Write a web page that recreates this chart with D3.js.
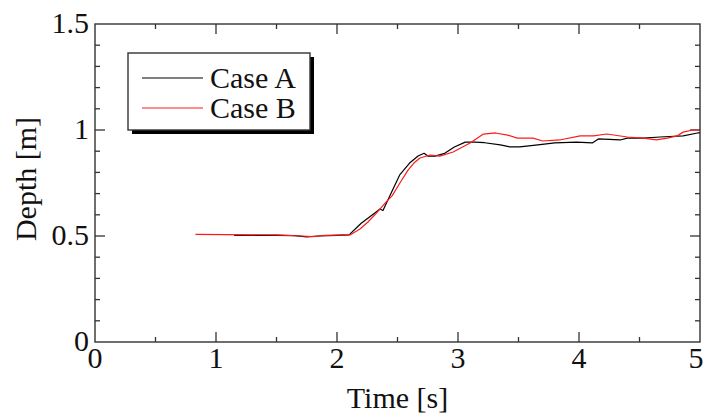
<!DOCTYPE html>
<html>
<head>
<meta charset="utf-8">
<script src="https://cdn.jsdelivr.net/npm/d3@7/dist/d3.min.js"></script>
<style>
  html, body { margin: 0; padding: 0; background: #fff; }
  svg { display: block; }
  text { font-family: "Liberation Serif", "Times New Roman", serif; fill: #111; }
</style>
</head>
<body>
<svg id="chart" width="705" height="417"></svg>
<script>
// Water depth time histories for two cases
const timeA  = [1.15, 1.5, 1.65, 1.75, 1.85, 2.0, 2.1, 2.2, 2.31, 2.355, 2.38, 2.44, 2.52, 2.6, 2.67, 2.72, 2.75, 2.81, 2.89, 2.97, 3.06, 3.14, 3.22, 3.35, 3.43, 3.51, 3.66, 3.8, 3.98, 4.11, 4.16, 4.34, 4.4, 4.53, 4.67, 4.86, 4.98, 5.0];
const depthA = [0.503, 0.503, 0.502, 0.496, 0.5, 0.503, 0.505, 0.56, 0.607, 0.627, 0.62, 0.693, 0.79, 0.844, 0.877, 0.89, 0.877, 0.877, 0.89, 0.92, 0.943, 0.943, 0.94, 0.93, 0.92, 0.92, 0.93, 0.939, 0.943, 0.939, 0.958, 0.953, 0.962, 0.962, 0.967, 0.972, 0.986, 0.986];

const timeB  = [0.83, 1.5, 1.7, 1.8, 1.9, 2.05, 2.107, 2.19, 2.256, 2.32, 2.405, 2.455, 2.52, 2.587, 2.636, 2.686, 2.77, 2.85, 2.96, 3.1, 3.21, 3.31, 3.41, 3.49, 3.62, 3.7, 3.84, 4.01, 4.12, 4.23, 4.4, 4.53, 4.64, 4.73, 4.81, 4.86, 4.94, 5.0];
const depthB = [0.508, 0.505, 0.5, 0.497, 0.503, 0.505, 0.505, 0.533, 0.566, 0.604, 0.66, 0.689, 0.75, 0.811, 0.844, 0.868, 0.882, 0.877, 0.896, 0.939, 0.981, 0.986, 0.976, 0.962, 0.962, 0.948, 0.953, 0.972, 0.972, 0.981, 0.967, 0.962, 0.953, 0.962, 0.972, 0.99, 1.0, 1.0];

const seriesNames  = ["Case A", "Case B"];
const seriesColors = ["#000000", "#ff1a1a"];

const xMajor = [0, 1, 2, 3, 4, 5];
const xMinor = [0.5, 1.5, 2.5, 3.5, 4.5];
const yMajor = [0, 0.5, 1, 1.5];
const yMinor = [0.1, 0.2, 0.3, 0.4, 0.6, 0.7, 0.8, 0.9, 1.1, 1.2, 1.3, 1.4];

const W = 705;
const svg = d3.select("#chart");
const L = 95, R = 700, T = 24, B = 342;
const x = d3.scaleLinear().domain([0, 5]).range([L, R]);
const y = d3.scaleLinear().domain([0, 1.5]).range([B, T]);

const frameColor = "#333";
const majorLen = 10, minorLen = 5;

// Inward ticks on all four sides
const tickG = svg.append("g").attr("stroke", frameColor).attr("stroke-width", 1.3);
function xTicks(vals, len) {
  vals.forEach(v => {
    tickG.append("line").attr("x1", x(v)).attr("x2", x(v)).attr("y1", B).attr("y2", B - len);
    tickG.append("line").attr("x1", x(v)).attr("x2", x(v)).attr("y1", T).attr("y2", T + len);
  });
}
function yTicks(vals, len) {
  vals.forEach(v => {
    tickG.append("line").attr("y1", y(v)).attr("y2", y(v)).attr("x1", L).attr("x2", L + len);
    tickG.append("line").attr("y1", y(v)).attr("y2", y(v)).attr("x1", R).attr("x2", R - len);
  });
}
xTicks(xMajor.filter(v => v > 0 && v < 5), majorLen);
xTicks(xMinor, minorLen);
yTicks(yMajor.filter(v => v > 0 && v < 1.5), majorLen);
yTicks(yMinor, minorLen);

// Lines
const line = d3.line().x(d => x(d[0])).y(d => y(d[1]));
const dataA = timeA.map((t, i) => [t, depthA[i]]);
const dataB = timeB.map((t, i) => [t, depthB[i]]);
[dataA, dataB].forEach((d, i) => {
  svg.append("path").datum(d).attr("d", line)
    .attr("fill", "none").attr("stroke", seriesColors[i]).attr("stroke-width", 1.2)
    .attr("stroke-linejoin", "round");
});

// Frame
svg.append("rect").attr("x", L).attr("y", T).attr("width", R - L).attr("height", B - T)
  .attr("fill", "none").attr("stroke", frameColor).attr("stroke-width", 1.4);

// Tick labels (the last x label is kept inside the canvas)
const fs = 30;
svg.append("g").selectAll("text").data(xMajor).join("text")
  .attr("x", d => Math.min(x(d), W - 9)).attr("y", 368).attr("text-anchor", "middle")
  .attr("font-size", fs).text(d => d3.format("")(d));
svg.append("g").selectAll("text").data(yMajor).join("text")
  .attr("x", 89).attr("y", d => y(d) + 9).attr("text-anchor", "end")
  .attr("font-size", fs).text(d => d);

// Axis titles
svg.append("text").attr("x", (L + R) / 2).attr("y", 408).attr("text-anchor", "middle")
  .attr("font-size", fs).text("Time [s]");
svg.append("text").attr("transform", "translate(36,179) rotate(-90)")
  .attr("text-anchor", "middle").attr("font-size", fs).text("Depth [m]");

// Legend with drop shadow
const lg = svg.append("g");
lg.append("rect").attr("x", 132).attr("y", 57).attr("width", 182).attr("height", 77).attr("fill", "#000");
lg.append("rect").attr("x", 128).attr("y", 53).attr("width", 182).attr("height", 77)
  .attr("fill", "#fff").attr("stroke", frameColor).attr("stroke-width", 1.4);
seriesNames.forEach((name, i) => {
  const yy = 78 + i * 30;
  lg.append("line").attr("x1", 142).attr("x2", 203).attr("y1", yy).attr("y2", yy)
    .attr("stroke", seriesColors[i]).attr("stroke-width", 1.2);
  lg.append("text").attr("x", 210).attr("y", yy + 10).attr("font-size", fs).text(name);
});
</script>
</body>
</html>
